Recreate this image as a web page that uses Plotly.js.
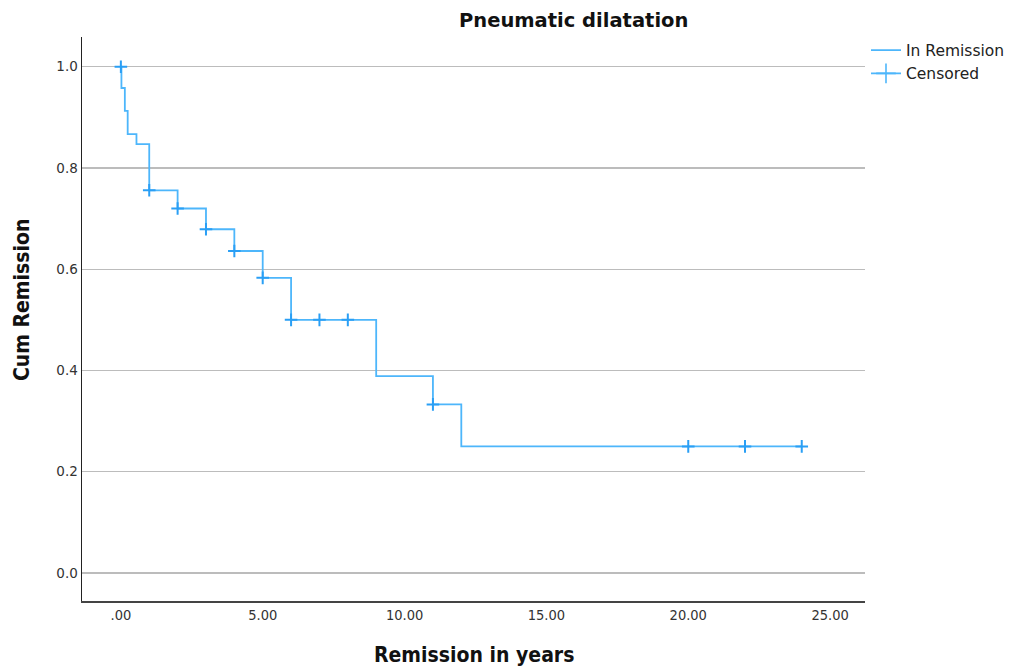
<!DOCTYPE html>
<html>
<head>
<meta charset="utf-8">
<script src="https://cdn.plot.ly/plotly-3.0.1.min.js"></script>
<style>html,body{margin:0;padding:0;background:#fff;}#chart{width:1021px;height:667px;}</style>
</head>
<body>
<div id="chart"></div>
<script>
// Kaplan-Meier step values (time in years, cumulative remission)
const stepTimes  = [0, 0.02, 0.14, 0.24, 0.55, 1.0, 2.0, 3.0, 4.0, 5.0, 6.0, 9.0, 11.0, 12.0, 24.0];
const stepValues = [1.0, 0.958, 0.913, 0.867, 0.847, 0.756, 0.720, 0.679, 0.636, 0.583, 0.500, 0.389, 0.333, 0.250, 0.250];
// Censored observations
const censorTimes  = [0, 1.0, 2.0, 3.0, 4.0, 5.0, 6.0, 7.0, 8.0, 11.0, 20.0, 22.0, 24.0];
const censorValues = [1.0, 0.756, 0.720, 0.679, 0.636, 0.583, 0.500, 0.500, 0.500, 0.333, 0.250, 0.250, 0.250];
// Axis ticks
const xTickVals = [0, 5, 10, 15, 20, 25];
const xTickText = ['.00', '5.00', '10.00', '15.00', '20.00', '25.00'];
const yTickVals = [0, 0.2, 0.4, 0.6, 0.8, 1.0];
const yTickText = ['0.0', '0.2', '0.4', '0.6', '0.8', '1.0'];

const blue = '#4db6fb';
const markerBlue = '#2a9ff5';

const traces = [
  {
    x: stepTimes, y: stepValues, type: 'scatter', mode: 'lines',
    line: {shape: 'hv', color: blue, width: 1.8},
    name: 'In Remission', showlegend: true, hoverinfo: 'skip'
  },
  {
    x: censorTimes, y: censorValues, type: 'scatter', mode: 'markers',
    marker: {symbol: 'cross-thin', size: 9, color: markerBlue, line: {color: markerBlue, width: 2}},
    name: 'Censored', showlegend: false, hoverinfo: 'skip'
  },
  {
    x: [null], y: [null], type: 'scatter', mode: 'lines+markers',
    line: {color: blue, width: 1.6},
    marker: {symbol: 'cross-thin', size: 14, color: blue, line: {color: blue, width: 1.6}},
    name: 'Censored', showlegend: true, hoverinfo: 'skip'
  }
];

const titleFont = {family: 'DejaVu Sans Condensed', size: 21, color: '#111'};

const layout = {
  width: 1021, height: 667,
  margin: {l: 82, r: 155, t: 37, b: 66},
  paper_bgcolor: '#fff', plot_bgcolor: '#fff',
  showlegend: true,
  xaxis: {
    range: [-1.37, 26.23],
    tickvals: xTickVals, ticktext: xTickText,
    showgrid: false, zeroline: false,
    showline: true, linecolor: '#444', linewidth: 1.5,
    ticks: '', ticklen: 0,
    tickfont: {family: 'DejaVu Sans Condensed', size: 14.5, color: '#333'}
  },
  yaxis: {
    range: [-0.0554, 1.0588],
    tickvals: yTickVals, ticktext: yTickText,
    showgrid: true, gridcolor: '#bcbcbc', gridwidth: 1.2,
    zeroline: false,
    showline: true, linecolor: '#222', linewidth: 1.5,
    ticks: '', ticklen: 0,
    tickfont: {family: 'DejaVu Sans', size: 13.5, color: '#333'}
  },
  annotations: [
    {text: '<b>Pneumatic dilatation</b>', xref: 'paper', yref: 'paper', x: 0.6276, y: 1.030,
     xanchor: 'center', yanchor: 'middle', showarrow: false,
     font: {family: 'DejaVu Sans', size: 19.5, color: '#111'}},
    {text: '<b>Remission in years</b>', xref: 'paper', yref: 'paper', x: 0.501, y: -0.0957,
     xanchor: 'center', yanchor: 'middle', showarrow: false, font: titleFont},
    {text: '<b>Cum Remission</b>', xref: 'paper', yref: 'paper', x: -0.0765, y: 0.5337,
     xanchor: 'center', yanchor: 'middle', showarrow: false, textangle: -90, font: titleFont}
  ],
  legend: {
    x: 1.0, xanchor: 'left', y: 1.006, yanchor: 'top',
    font: {family: 'DejaVu Sans', size: 15.5, color: '#222'},
    bgcolor: 'rgba(0,0,0,0)', borderwidth: 0,
    tracegroupgap: 0, itemwidth: 30
  }
};

Plotly.newPlot('chart', traces, layout, {displayModeBar: false, staticPlot: true});
</script>
</body>
</html>
